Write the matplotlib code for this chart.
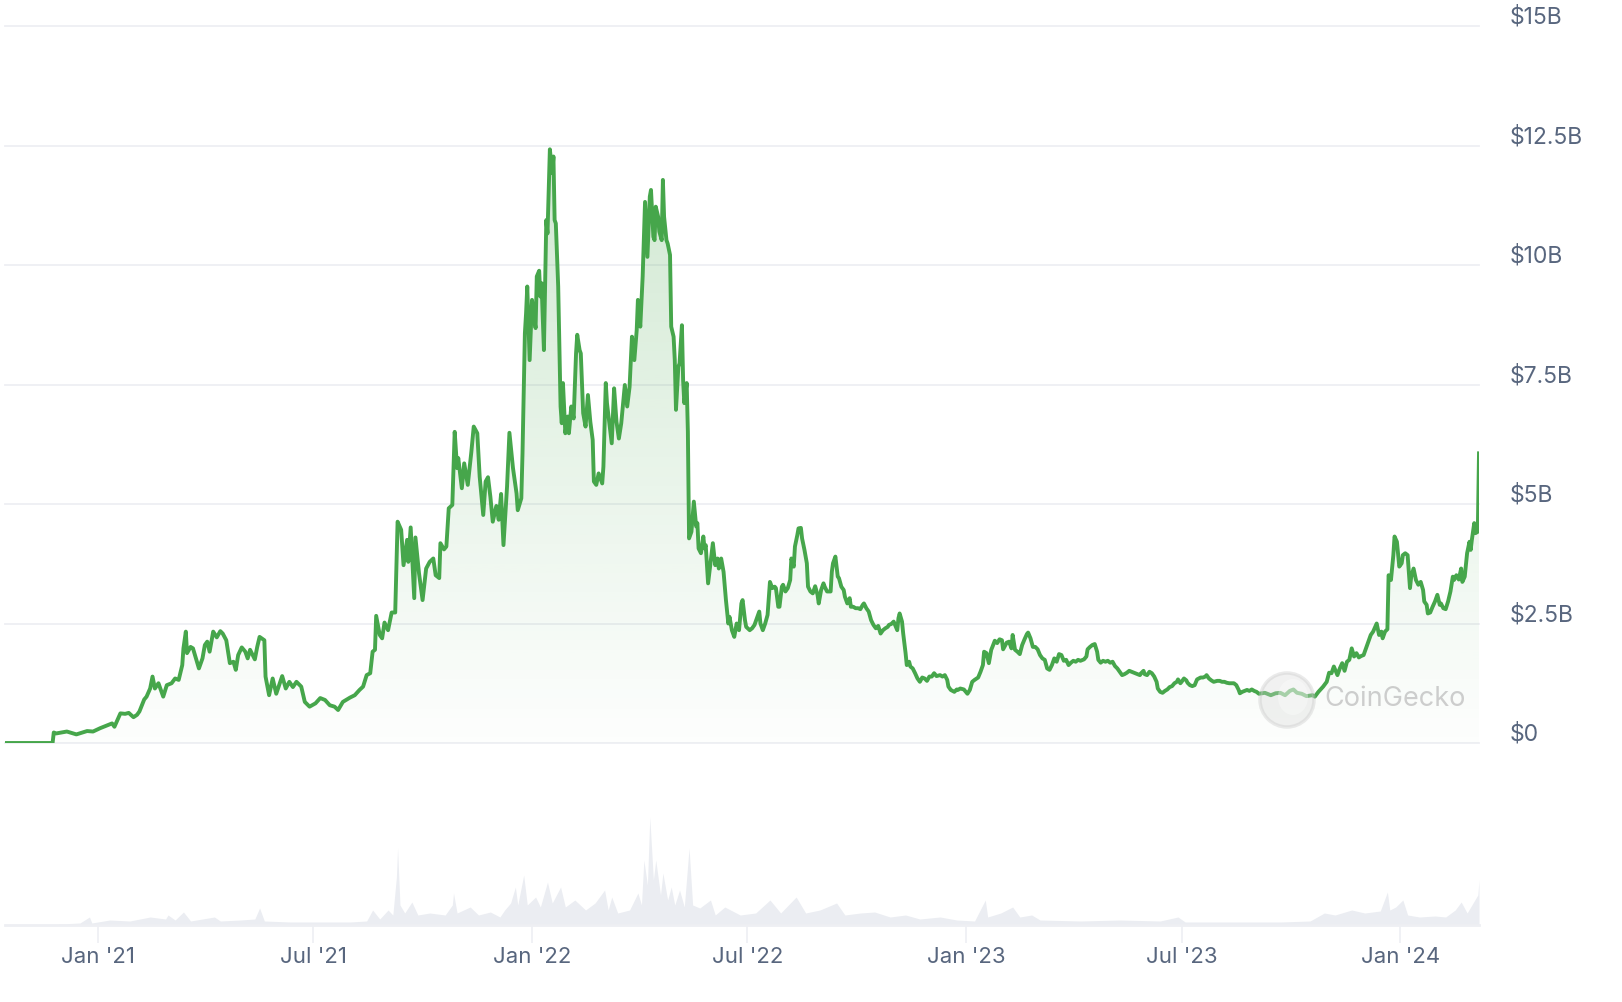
import numpy as np
import matplotlib
matplotlib.use("Agg")
import matplotlib.pyplot as plt
from matplotlib.colors import to_rgb
from matplotlib.patches import Ellipse

plt.rcParams['font.family'] = ['Inter', 'DejaVu Sans']

# days counted from START, market cap in $B
START = '2020-10-15'
price_points = [
    (0, 0.0), (40, 0.0), (41, 0.22), (43, 0.20), (52, 0.24), (60, 0.18), (69, 0.25), (74, 0.24), (80, 0.31), (85, 0.36),
    (90, 0.41), (92, 0.34), (97, 0.62), (101, 0.61), (104, 0.63), (108, 0.54), (111, 0.59), (113, 0.66), (117, 0.91), (119, 0.97),
    (122, 1.14), (124, 1.39), (126, 1.14), (129, 1.25), (133, 0.97), (136, 1.21), (140, 1.25), (143, 1.35), (146, 1.32), (149, 1.63),
    (150, 1.98), (152, 2.33), (153, 1.88), (156, 2.01), (158, 1.98), (163, 1.56), (166, 1.77), (168, 2.05), (170, 2.12), (172, 1.91),
    (175, 2.33), (178, 2.21), (181, 2.34), (183, 2.29), (186, 2.15), (189, 1.67), (192, 1.70), (194, 1.53), (196, 1.84), (199, 2.00),
    (202, 1.91), (204, 1.77), (206, 1.95), (210, 1.75), (212, 2.01), (214, 2.22), (218, 2.15), (219, 1.39), (222, 1.00), (225, 1.35),
    (228, 1.03), (231, 1.25), (233, 1.40), (236, 1.14), (239, 1.28), (242, 1.17), (245, 1.28), (249, 1.18), (252, 0.86), (256, 0.76),
    (261, 0.83), (265, 0.94), (269, 0.90), (273, 0.79),
    (277, 0.76), (280, 0.69), (284, 0.86), (290, 0.95), (294, 1.00), (298, 1.11), (301, 1.18), (304, 1.42), (307, 1.46), (309, 1.91),
    (311, 1.95), (312, 2.66), (315, 2.26), (317, 2.19), (319, 2.52), (322, 2.36), (325, 2.73), (328, 2.73), (330, 4.63), (333, 4.46),
    (335, 3.72), (338, 4.25), (339, 3.79), (341, 4.51), (344, 3.03), (345, 4.30), (348, 3.55), (351, 2.99), (354, 3.65), (357, 3.79),
    (360, 3.86), (362, 3.51), (365, 3.45), (366, 4.18), (369, 4.05), (371, 4.11), (373, 4.91), (376, 4.98), (378, 6.51), (380, 5.75),
    (381, 5.96), (384, 5.33), (386, 5.85), (389, 5.40), (392, 6.09), (394, 6.62), (397, 6.48), (399, 5.57), (402, 4.77), (404, 5.47),
    (406, 5.56), (408, 5.15), (410, 4.63), (413, 4.96), (415, 4.67), (417, 5.21), (419, 4.14), (422, 5.36), (424, 6.49), (427, 5.75),
    (430, 5.22), (431, 4.87), (434, 5.12),
    (435, 6.06), (437, 8.57), (438, 8.99), (439, 9.55), (441, 8.01), (443, 9.27), (445, 8.85), (446, 8.68), (447, 9.76), (449, 9.88),
    (450, 9.34), (451, 9.62), (453, 8.22), (455, 10.94), (456, 10.66), (458, 12.42), (460, 11.92), (461, 12.27), (462, 10.94), (463, 10.87),
    (465, 9.55), (467, 7.04), (468, 6.69), (469, 7.53), (471, 6.48), (473, 6.83), (474, 6.48), (476, 7.04), (478, 6.79), (480, 8.15),
    (481, 8.54), (483, 8.22), (484, 8.15), (486, 6.90), (488, 6.62), (490, 7.28), (492, 6.72), (494, 6.34), (495, 5.47), (497, 5.40),
    (499, 5.64), (502, 5.43), (503, 5.78), (505, 7.53), (506, 7.11), (508, 6.69), (510, 6.27), (512, 7.42), (514, 6.72), (516, 6.37),
    (518, 6.69), (521, 7.49), (523, 7.04), (525, 7.45), (527, 8.50), (529, 8.01), (531, 8.64), (532, 9.27), (534, 8.71), (536, 9.76),
    (538, 11.32), (539, 10.73), (540, 10.17), (542, 11.43), (543, 11.57), (545, 10.59), (546, 10.52), (547, 11.22), (549, 11.01), (550, 10.70),
    (552, 10.52), (553, 11.78), (554, 11.01), (556, 10.52), (557, 10.45), (559, 10.21), (560, 8.71), (562, 8.50), (563, 8.01), (564, 6.97),
    (566, 7.87), (567, 7.94), (569, 8.74), (570, 7.59), (571, 7.11), (573, 7.53), (574, 6.51),
    (575, 4.28), (577, 4.42), (579, 5.05), (581, 4.53), (582, 4.60), (583, 4.07), (585, 3.97), (587, 4.32), (588, 4.07), (589, 4.14),
    (591, 3.34), (593, 3.76), (595, 4.18), (597, 3.72), (599, 3.86), (600, 3.65), (602, 3.86), (604, 3.58), (606, 2.99), (608, 2.50),
    (609, 2.64), (611, 2.36), (613, 2.22), (615, 2.50), (617, 2.36), (619, 2.92), (620, 2.99), (622, 2.57), (623, 2.43), (626, 2.36),
    (628, 2.40), (630, 2.47), (632, 2.61), (634, 2.75), (635, 2.50), (637, 2.36), (639, 2.50), (641, 2.68), (643, 3.37), (645, 3.24),
    (647, 3.27), (648, 3.24), (650, 2.85), (651, 2.85), (653, 3.27), (654, 3.31), (656, 3.17), (658, 3.24), (660, 3.41), (661, 3.86),
    (663, 3.69), (664, 4.11), (666, 4.35), (667, 4.49), (669, 4.50), (670, 4.28), (672, 4.04), (674, 3.76), (675, 3.27), (677, 3.17),
    (679, 3.13), (681, 3.28), (683, 3.10), (684, 2.92), (686, 3.20), (688, 3.34), (689, 3.27), (691, 3.17), (694, 3.17), (695, 3.58),
    (696, 3.76), (698, 3.90), (700, 3.48), (701, 3.45), (703, 3.27), (705, 3.20), (706, 3.06), (708, 2.92), (710, 3.03), (711, 2.85),
    (713, 2.85), (715, 2.82), (717, 2.82), (719, 2.80), (721, 2.89), (722, 2.92), (724, 2.82), (726, 2.75), (728, 2.57), (730, 2.47),
    (732, 2.40), (734, 2.45), (736, 2.29), (738, 2.36), (740, 2.40), (742, 2.43), (743, 2.47), (745, 2.49), (747, 2.54), (750, 2.36),
    (751, 2.61), (752, 2.71), (754, 2.54), (755, 2.29), (757, 1.88), (758, 1.63), (760, 1.70), (761, 1.60), (763, 1.56), (765, 1.46),
    (767, 1.35), (769, 1.28), (771, 1.37), (773, 1.35), (775, 1.30), (777, 1.39), (779, 1.39), (781, 1.46), (783, 1.40), (786, 1.42),
    (788, 1.39), (790, 1.42), (792, 1.32), (793, 1.18), (795, 1.11), (798, 1.07), (800, 1.12), (801, 1.11),
    (803, 1.14), (806, 1.12), (809, 1.03), (811, 1.11), (813, 1.28), (815, 1.32), (818, 1.37), (820, 1.49), (822, 1.63), (823, 1.91),
    (825, 1.88), (827, 1.67), (829, 1.95), (830, 2.01), (832, 2.14), (834, 2.09), (836, 2.17), (838, 2.15), (839, 1.96), (842, 2.10),
    (844, 2.12), (846, 1.98), (847, 2.26), (849, 1.95), (851, 1.91), (853, 1.86), (855, 2.05), (857, 2.17), (859, 2.28), (860, 2.31),
    (862, 2.19), (864, 2.01), (866, 2.01), (868, 1.96), (870, 1.84), (872, 1.77), (874, 1.74), (876, 1.56), (878, 1.53), (880, 1.63),
    (882, 1.77), (884, 1.70), (886, 1.86), (888, 1.84), (890, 1.72), (892, 1.74), (894, 1.63), (896, 1.68), (898, 1.72), (900, 1.70),
    (902, 1.74), (904, 1.72), (907, 1.75), (909, 1.81), (910, 1.96), (912, 2.01), (914, 2.05), (916, 2.07), (918, 1.91), (919, 1.74),
    (921, 1.68), (923, 1.72), (925, 1.70), (927, 1.72), (929, 1.68), (931, 1.70), (933, 1.61), (935, 1.56), (937, 1.49), (939, 1.42),
    (941, 1.44), (943, 1.47), (945, 1.51), (947, 1.49), (949, 1.47), (952, 1.44), (954, 1.42), (955, 1.46), (957, 1.51), (958, 1.44),
    (960, 1.42), (962, 1.49), (964, 1.46), (966, 1.39), (968, 1.28), (969, 1.14), (971, 1.07), (973, 1.05), (975, 1.09), (977, 1.12),
    (979, 1.17), (981, 1.19), (983, 1.25), (985, 1.28), (986, 1.33), (988, 1.25), (989, 1.28), (991, 1.35), (993, 1.31), (994, 1.26),
    (996, 1.21), (998, 1.19), (1000, 1.21), (1002, 1.33), (1005, 1.37), (1007, 1.37), (1009, 1.39), (1010, 1.42), (1012, 1.35), (1014, 1.31),
    (1016, 1.28), (1019, 1.30), (1021, 1.30), (1023, 1.28), (1025, 1.28), (1027, 1.26), (1029, 1.25), (1031, 1.25), (1033, 1.25), (1035, 1.21),
    (1037, 1.11), (1038, 1.04),
    (1040, 1.07), (1042, 1.09), (1044, 1.11), (1046, 1.09), (1048, 1.12), (1050, 1.09), (1052, 1.07), (1054, 1.03), (1059, 1.05), (1064, 1.00),
    (1068, 1.04), (1072, 1.05), (1076, 1.00), (1080, 1.09), (1083, 1.12), (1086, 1.05), (1090, 1.03), (1094, 0.98), (1099, 1.00), (1101, 0.97),
    (1104, 1.07), (1108, 1.18), (1111, 1.28), (1113, 1.47), (1115, 1.46), (1117, 1.60), (1120, 1.42), (1122, 1.56), (1124, 1.67), (1126, 1.51),
    (1128, 1.70), (1130, 1.74), (1132, 1.98), (1134, 1.81), (1136, 1.88), (1138, 1.79), (1140, 1.82), (1142, 1.84), (1144, 1.98), (1146, 2.12),
    (1148, 2.26), (1150, 2.33), (1153, 2.50), (1155, 2.26), (1157, 2.33), (1158, 2.19), (1160, 2.33), (1162, 2.38), (1163, 3.51), (1165, 3.41),
    (1167, 3.93), (1168, 4.32), (1170, 4.21), (1172, 3.69), (1174, 3.76), (1175, 3.93), (1177, 3.97), (1179, 3.93), (1181, 3.24), (1182, 3.48),
    (1184, 3.65), (1186, 3.41), (1188, 3.31), (1190, 3.37), (1192, 3.20), (1193, 2.96), (1195, 2.89), (1196, 2.71), (1198, 2.73), (1200, 2.85),
    (1202, 2.96), (1204, 3.10), (1206, 2.89), (1207, 2.92), (1209, 2.82), (1211, 2.80), (1213, 2.96), (1215, 3.17), (1217, 3.48), (1218, 3.41),
    (1220, 3.51), (1222, 3.42), (1224, 3.65), (1225, 3.37), (1227, 3.48), (1229, 3.97), (1231, 4.21), (1232, 4.04), (1233, 4.25), (1235, 4.60),
    (1236, 4.39), (1238, 4.42), (1239, 6.06),
]

# trading volume, $M
volume_points = [
    (1, 0), (38, 0), (46, 20), (63, 40), (71, 160), (73, 40), (88, 100), (105, 80), (122, 160), (135, 120),
    (137, 200), (143, 100), (150, 260), (156, 80), (176, 160), (181, 80), (198, 100), (210, 120), (214, 340), (218, 80),
    (240, 60), (265, 60), (290, 60), (304, 80), (309, 300), (315, 120), (322, 300), (326, 200), (329, 960), (330, 1540),
    (332, 400), (336, 240), (342, 460), (347, 200), (357, 240), (370, 200), (376, 400), (377, 640), (380, 240), (391, 360),
    (398, 200), (408, 260), (416, 160), (420, 300), (425, 440), (429, 760), (431, 400), (436, 1000), (439, 400), (446, 560),
    (450, 360), (456, 860), (460, 440), (467, 760), (471, 360), (479, 500), (488, 300), (496, 440), (504, 700), (507, 300),
    (510, 560), (515, 240), (525, 300), (532, 640), (535, 400), (537, 1300), (540, 800), (542, 2160), (545, 900), (547, 1300),
    (551, 600), (553, 1040), (557, 500), (560, 760), (563, 400), (567, 700), (571, 360), (575, 1540), (578, 400), (584, 340),
    (593, 500), (597, 200), (605, 360), (618, 200), (631, 240), (643, 500), (652, 240), (665, 560), (673, 240), (685, 300),
    (699, 440), (706, 200), (719, 240), (731, 260), (744, 160), (757, 200), (769, 120), (786, 160), (800, 100), (815, 80),
    (824, 500), (826, 160), (837, 240), (847, 360), (853, 160), (863, 200), (870, 100), (904, 80), (937, 100), (971, 80),
    (986, 160), (992, 60), (1030, 60), (1072, 60), (1097, 80), (1109, 240), (1118, 200), (1132, 300), (1143, 240), (1156, 280),
    (1162, 660), (1164, 300), (1169, 360), (1175, 500), (1179, 200), (1189, 160), (1202, 180), (1211, 160), (1219, 300), (1224, 460),
    (1229, 240), (1238, 600), (1239, 900),
]

y_ticks = [0, 2.5, 5, 7.5, 10, 12.5, 15]
y_labels = ['$0', '$2.5B', '$5B', '$7.5B', '$10B', '$12.5B', '$15B']
x_tick_dates = ['2021-01-01', '2021-07-01', '2022-01-01', '2022-07-01', '2023-01-01', '2023-07-01', '2024-01-01']
x_tick_labels = ["Jan '21", "Jul '21", "Jan '22", "Jul '22", "Jan '23", "Jul '23", "Jan '24"]

GREEN = '#46a64b'
GRID = '#eeeff3'
TEXT = '#58667e'
VOL = '#ebedf2'

W, H = 1622, 1002
last_day = price_points[-1][0]


def rect(x0, x1, ytop, ybot):
    return [x0 / W, 1 - ybot / H, (x1 - x0) / W, (ybot - ytop) / H]


px = np.array([p[0] for p in price_points], dtype=float)
py = np.array([p[1] for p in price_points])
vx = np.array([p[0] for p in volume_points], dtype=float)
vy = np.array([p[1] for p in volume_points], dtype=float)
tick_days = [(np.datetime64(d) - np.datetime64(START)).astype(int) for d in x_tick_dates]

fig = plt.figure(figsize=(W / 100, H / 100), dpi=100)

# market cap panel
ax = fig.add_axes(rect(5, 1479, 26, 743))
ax.set_xlim(0, last_day)
ax.set_ylim(0, 15)
ax.axis('off')
for v in y_ticks:
    ax.axhline(v, color=GRID, lw=1.3, zorder=0, clip_on=False)

grad = np.zeros((256, 1, 4))
grad[..., :3] = to_rgb(GREEN)
grad[..., 3] = np.linspace(0.30, 0.01, 256)[:, None]
im = ax.imshow(grad, extent=[0, last_day, 0, 15], aspect='auto', origin='upper', zorder=1)
poly = ax.fill_between(px, py, 0, facecolor='none', edgecolor='none')
im.set_clip_path(poly.get_paths()[0], transform=ax.transData)
ax.plot(px, py, color=GREEN, lw=2.8, solid_joinstyle='round', zorder=3)

for v, lab in zip(y_ticks, y_labels):
    ax.annotate(lab, xy=(1, v), xycoords=ax.get_yaxis_transform(), xytext=(22, 6),
                textcoords='offset points', ha='left', va='center', fontsize=16.5, color=TEXT)

# volume panel
axv = fig.add_axes(rect(5, 1479, 780, 925))
axv.set_xlim(0, last_day)
axv.set_ylim(0, 2900)
axv.fill_between(vx, vy, 0, color=VOL, lw=0)
axv.axhline(0, color=GRID, lw=2, clip_on=False)
for s in axv.spines.values():
    s.set_visible(False)
axv.set_yticks([])
axv.set_xticks(tick_days)
axv.set_xticklabels(x_tick_labels)
axv.tick_params(axis='x', length=13, width=1.2, color=GRID, labelsize=16, labelcolor=TEXT, pad=2.5)

# watermark
cx, cy = 1287 / W, 1 - 700 / H
fig.add_artist(Ellipse((cx, cy), 54 / W, 54 / H, transform=fig.transFigure,
                       facecolor='#d8d8d8', edgecolor='#c4c4c4', lw=2.5, alpha=0.35, zorder=10))
fig.add_artist(Ellipse((cx + 6 / W, cy + 3 / H), 30 / W, 36 / H, transform=fig.transFigure,
                       facecolor='#ffffff', edgecolor='none', alpha=0.35, zorder=10))
fig.text(1324 / W, 1 - 699 / H, 'CoinGecko', fontsize=19.5, color='#a8a8a8', alpha=0.55,
         ha='left', va='center', zorder=11)

fig.savefig('out.png', dpi=100)
